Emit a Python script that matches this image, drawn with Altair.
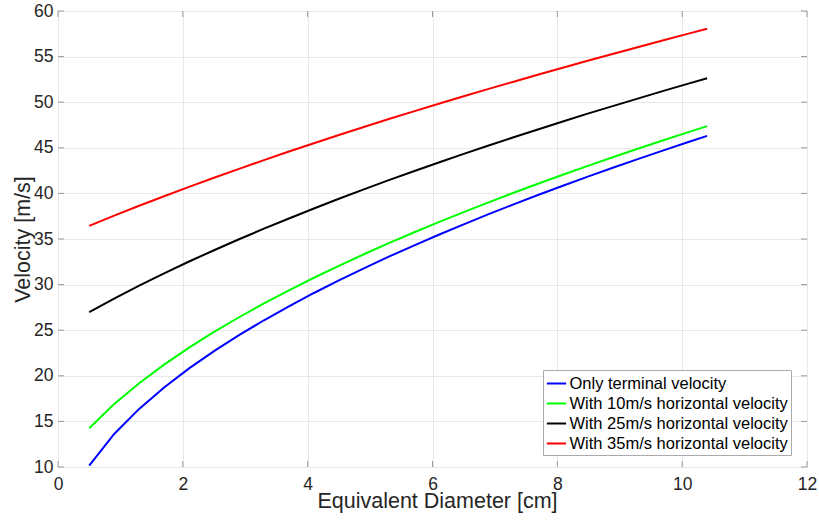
import altair as alt
import pandas as pd

# Equivalent diameter [cm]
diameter = [0.5, 0.9, 1.3, 1.7, 2.1, 2.5, 2.9, 3.3, 3.7, 4.1, 4.5, 4.9, 5.3,
            5.7, 6.1, 6.5, 6.9, 7.3, 7.7, 8.1, 8.5, 8.9, 9.3, 9.7, 10.1, 10.4]

only_terminal = [10.15, 13.62, 16.37, 18.72, 20.81, 22.70, 24.45, 26.09, 27.62,
                 29.08, 30.46, 31.79, 33.06, 34.28, 35.47, 36.61, 37.72, 38.80,
                 39.85, 40.87, 41.87, 42.84, 43.79, 44.72, 45.64, 46.31]
with_10 = [14.25, 16.90, 19.18, 21.22, 23.09, 24.81, 26.42, 27.94, 29.37, 30.75,
           32.06, 33.33, 34.54, 35.71, 36.85, 37.95, 39.02, 40.07, 41.09, 42.07,
           43.05, 43.99, 44.92, 45.83, 46.72, 47.38]
with_25 = [26.98, 28.47, 29.88, 31.23, 32.53, 33.77, 34.97, 36.13, 37.25, 38.35,
           39.41, 40.44, 41.45, 42.43, 43.39, 44.33, 45.25, 46.16, 47.04, 47.91,
           48.77, 49.60, 50.42, 51.24, 52.04, 52.63]
with_35 = [36.44, 37.56, 38.64, 39.69, 40.72, 41.72, 42.69, 43.65, 44.59, 45.50,
           46.40, 47.28, 48.15, 48.99, 49.83, 50.65, 51.46, 52.25, 53.04, 53.81,
           54.57, 55.32, 56.06, 56.79, 57.52, 58.05]

series_names = ["Only terminal velocity",
                "With 10m/s horizontal velocity",
                "With 25m/s horizontal velocity",
                "With 35m/s horizontal velocity"]
series_colors = ["#0000ff", "#00ff00", "#000000", "#ff0000"]

x_ticks = [0, 2, 4, 6, 8, 10, 12]
y_ticks = [10, 15, 20, 25, 30, 35, 40, 45, 50, 55, 60]

rows = []
for name, vals in zip(series_names, [only_terminal, with_10, with_25, with_35]):
    for i, (d, v) in enumerate(zip(diameter, vals)):
        rows.append({"d": d, "v": v, "series": name, "order": i})
df = pd.DataFrame(rows)
xt = pd.DataFrame({"t": x_ticks})
yt = pd.DataFrame({"t": y_ticks})

W, H = 749, 456
FONT = "Liberation Sans"
TXT = "#262626"
TICK = "#9a9a9a"

xscale = alt.Scale(domain=[0, 12], nice=False, zero=False)
yscale = alt.Scale(domain=[10, 60], nice=False, zero=False)

xaxis = alt.Axis(values=x_ticks, format="d", grid=True, gridColor="#e8e8e8", ticks=False,
                 tickSize=0, domain=False, labelFontSize=17.5, labelColor=TXT,
                 labelPadding=8, labelFlush=False, labelOverlap=False, labelFont=FONT,
                 title="Equivalent Diameter [cm]", titleFont=FONT, titleFontSize=21.5,
                 titleFontWeight="normal", titleColor=TXT, titleX=379, titleY=40,
                 titleBaseline="alphabetic", titleAlign="center")
yaxis = alt.Axis(values=y_ticks, format="d", grid=True, gridColor="#e8e8e8", ticks=False,
                 tickSize=0, domain=False, labelFontSize=17.5, labelColor=TXT,
                 labelPadding=5, labelFlush=False, labelOverlap=False, labelFont=FONT,
                 title="Velocity [m/s]", titleFont=FONT, titleFontSize=21.5,
                 titleFontWeight="normal", titleColor=TXT, titleX=-28.5, titleY=228,
                 titleBaseline="alphabetic", titleAlign="center")

lines = alt.Chart(df).mark_line(strokeWidth=2).encode(
    x=alt.X("d:Q", scale=xscale, axis=xaxis),
    y=alt.Y("v:Q", scale=yscale, axis=yaxis),
    color=alt.Color("series:N", title=None,
                    scale=alt.Scale(domain=series_names, range=series_colors),
                    legend=alt.Legend(orient="none", legendX=485, legendY=359,
                                      symbolType="stroke", symbolSize=370,
                                      symbolStrokeWidth=2, labelFontSize=16.5,
                                      labelFont=FONT, labelColor="#000000",
                                      labelOffset=2, padding=2.5, rowPadding=0,
                                      strokeColor="#aaaaaa", fillColor="#ffffff",
                                      labelLimit=400)),
    order="order:Q",
)

tick_b = alt.Chart(xt).mark_rule(color=TICK, strokeWidth=1).encode(
    x=alt.X("t:Q", scale=xscale), y=alt.value(H), y2=alt.value(H - 6))
tick_t = alt.Chart(xt).mark_rule(color=TICK, strokeWidth=1).encode(
    x=alt.X("t:Q", scale=xscale), y=alt.value(0), y2=alt.value(6))
tick_l = alt.Chart(yt).mark_rule(color=TICK, strokeWidth=1).encode(
    y=alt.Y("t:Q", scale=yscale), x=alt.value(0), x2=alt.value(6))
tick_r = alt.Chart(yt).mark_rule(color=TICK, strokeWidth=1).encode(
    y=alt.Y("t:Q", scale=yscale), x=alt.value(W), x2=alt.value(W - 6))

chart = alt.layer(tick_b, tick_t, tick_l, tick_r, lines).properties(
    width=W, height=H,
    autosize=alt.AutoSizeParams(type="none"),
    padding={"left": 58, "top": 11, "right": 12, "bottom": 57},
    background="#ffffff",
).configure_view(stroke="#b0b0b0", strokeWidth=1)

chart.save("out.html", embed_options={"renderer": "svg", "actions": False})
